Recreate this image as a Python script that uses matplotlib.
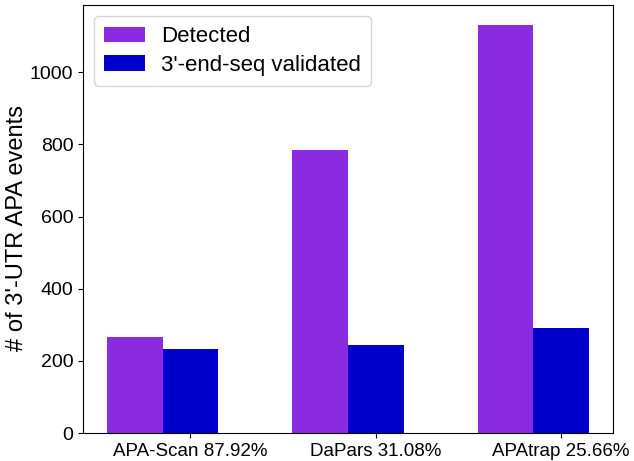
import numpy as np
import matplotlib
matplotlib.use('Agg')
import matplotlib.pyplot as plt

plt.rcParams['font.family'] = ['Liberation Sans', 'DejaVu Sans']

# counts per tool
tools = ['APA-Scan', 'DaPars', 'APAtrap']
detected = [265, 785, 1130]
validated = [233, 244, 290]
ratios = ['87.92%', '31.08%', '25.66%']

barWidth = 0.3
r1 = np.arange(len(tools))
r2 = r1 + barWidth

fig = plt.figure(figsize=(6.34, 4.61), dpi=100)
ax = fig.add_axes([83/634, 28/461, 530/634, 428/461])

ax.bar(r1, detected, width=barWidth, color='#8A2BE2', label='Detected')
ax.bar(r2, validated, width=barWidth, color='#0000CD', label="3'-end-seq validated")

ax.set_xticks(r2)
ax.set_xticklabels([t + ' ' + p for t, p in zip(tools, ratios)], fontsize=13.5)
ax.tick_params(axis='y', labelsize=14)
ax.set_ylabel("# of 3'-UTR APA events", fontsize=17)
ax.yaxis.set_label_coords(-0.103, 0.48)
ax.legend(loc='upper left', fontsize=16, handlelength=1.85,
          handletextpad=0.7, labelspacing=0.35, borderpad=0.45)

fig.savefig('out.png', dpi=100)
